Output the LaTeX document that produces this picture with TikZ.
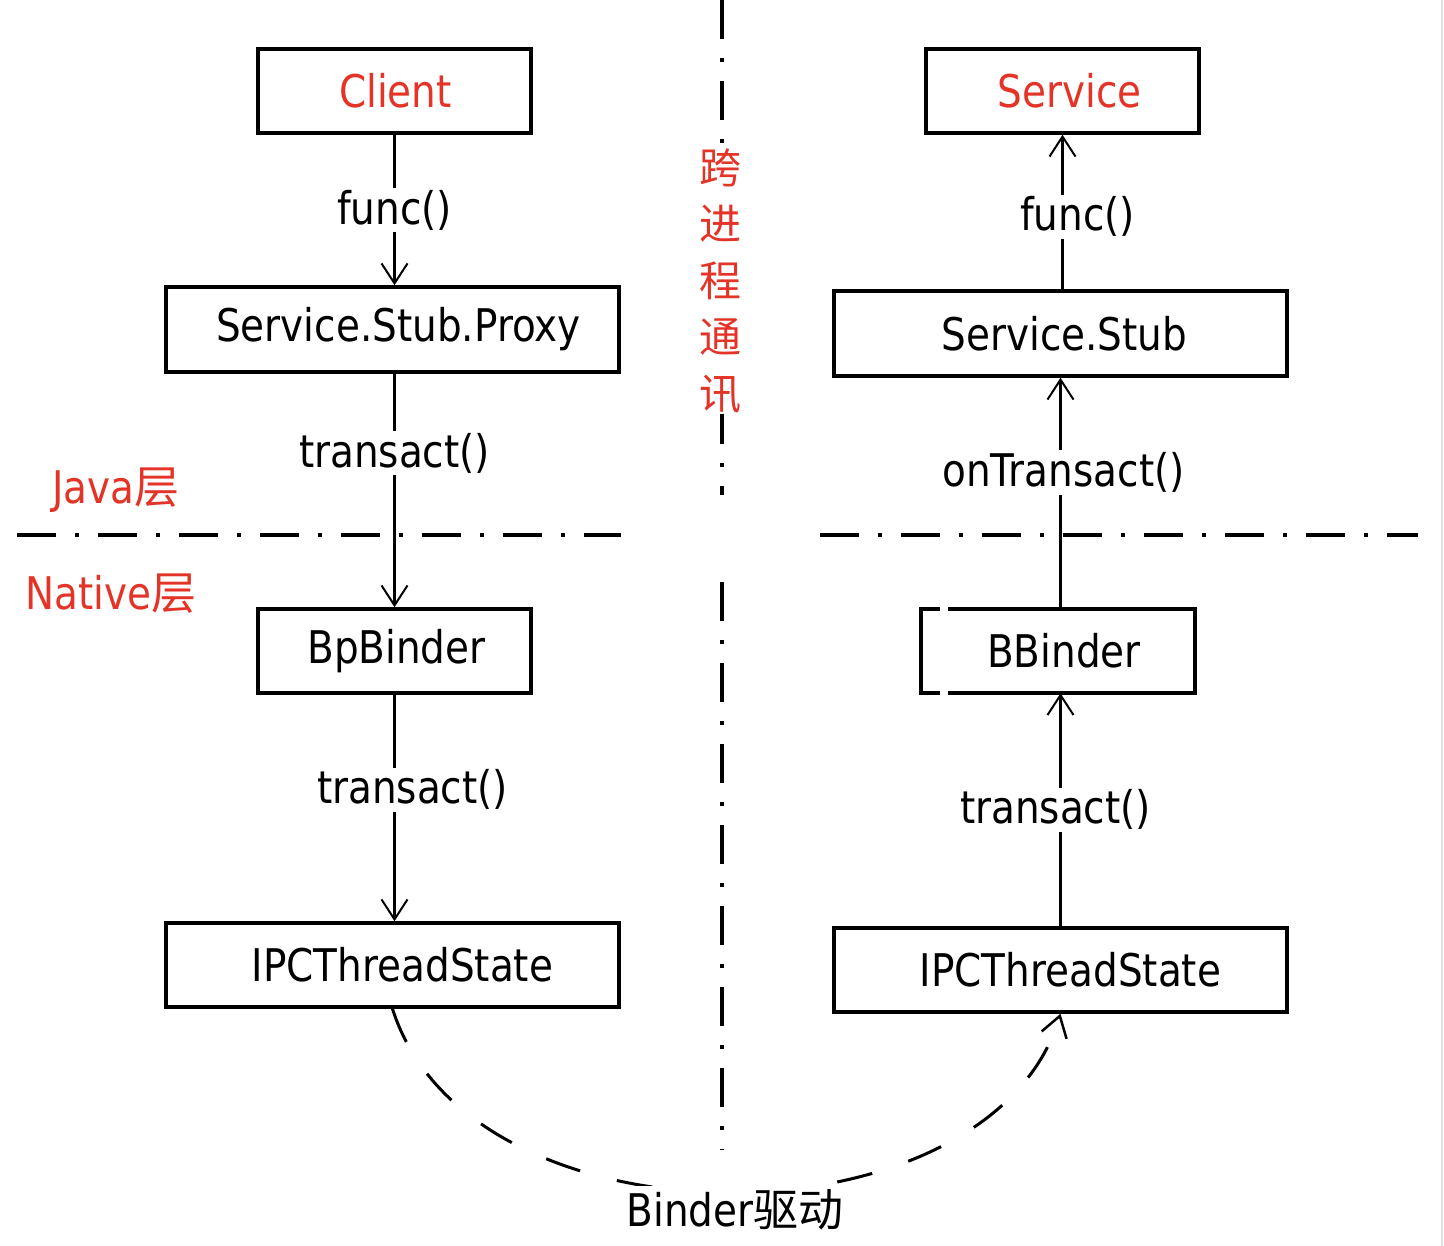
\documentclass[tikz,border=0pt]{standalone}
\usepackage{fontspec}
\setmainfont{DejaVu Sans}[FakeStretch=0.865]
\newfontfamily\cjk{Noto Sans CJK SC}
\usetikzlibrary{arrows.meta}
\definecolor{cred}{RGB}{228,52,40}
\begin{document}
\begin{tikzpicture}[x=1pt,y=-1pt,
  bigfont/.style={font=\fontsize{45}{54}\selectfont},
  box/.style={draw, line width=3.5pt, inner sep=0pt, bigfont},
  bt/.style={bigfont, inner sep=0pt},
  lbl/.style={fill=white, inner sep=2pt, bigfont},
  arr/.style={line width=3pt, -{Straight Barb[length=20pt,width=26pt,line width=2pt]}},
  dashdot/.style={line width=4pt, dash pattern=on 39pt off 19pt on 4pt off 19pt},
  redlbl/.style={bigfont, text=cred, inner sep=1pt}
]
\useasboundingbox (0,0) rectangle (1444,1246);
\fill[white] (0,0) rectangle (1444,1246);
\draw[black!12, line width=2pt] (1442,0) -- (1442,1246);

% separators
\draw[dashdot] (17,535) -- (621,535);
\draw[dashdot] (820,535) -- (1418,535);
\draw[dashdot] (722,0) -- (722,495);
\draw[dashdot] (722,582) -- (722,1150);
\node[font=\cjk\fontsize{42}{56.5}\selectfont, text=cred, align=center, fill=white, inner sep=1pt] (ipctext) at (720,281) {跨\\进\\程\\通\\讯};

\node[redlbl] (java) at (116,490) {Java{\cjk 层}};
\node[redlbl] (native) at (111,594) {Native{\cjk 层}};

% boxes
\node[box, minimum width=273pt, minimum height=84pt, label={[bt,text=cred,xshift=1pt]center:Client}] (client) at (394.5,91) {};
\node[box, minimum width=273pt, minimum height=84pt, label={[bt,text=cred,xshift=7pt]center:Service}] (service) at (1062.5,91) {};
\node[box, minimum width=453pt, minimum height=85pt, label={[bt,xshift=6pt]center:Service.Stub.Proxy}] (proxy) at (392.5,329.5) {};
\node[box, minimum width=453pt, minimum height=85pt, label={[bt,xshift=4pt]center:Service.Stub}] (stub) at (1060.5,333.5) {};
\node[box, minimum width=273pt, minimum height=84pt, label={[bt,xshift=2pt]center:BpBinder}] (bpb) at (394.5,651) {};
\node[minimum width=274pt, minimum height=84pt, inner sep=0pt, label={[bt,xshift=6pt]center:BBinder}] (bbinder) at (1058,651) {};
\draw[line width=3.5pt, line join=miter] ([xshift=19pt]bbinder.north west) -- (bbinder.north west) -- (bbinder.south west) -- ([xshift=19pt]bbinder.south west);
\draw[line width=3.5pt, line join=miter] ([xshift=27pt]bbinder.north west) -- (bbinder.north east) -- (bbinder.south east) -- ([xshift=27pt]bbinder.south west);
\node[box, minimum width=453pt, minimum height=84pt, label={[bt,xshift=10pt]center:IPCThreadState}] (ipcl) at (392.5,965) {};
\node[box, minimum width=453pt, minimum height=84pt, label={[bt,xshift=10pt]center:IPCThreadState}] (ipcr) at (1060.5,970) {};

% left connectors
\draw[arr] (client.south) -- node[lbl, pos=0.5]{func()} (proxy.north -| client.south);
\draw[arr] (proxy.south -| bpb.north) -- node[lbl, pos=0.34]{transact()} (bpb.north);
\draw[arr] (bpb.south) -- node[lbl, pos=0.42, xshift=18pt]{transact()} (bpb.south |- ipcl.north);

% right connectors
\draw[arr] (stub.north -| service.south) -- node[lbl, pos=0.47, xshift=15pt]{func()} (service.south);
\draw[arr] (bbinder.north -| stub.south) -- node[lbl, pos=0.59, xshift=3pt]{onTransact()} (stub.south);
\draw[arr] (ipcr.north) -- node[lbl, pos=0.5, xshift=-5pt]{transact()} (ipcr.north |- bbinder.south);

% binder driver arc
\draw[line width=3pt, dash pattern=on 36pt off 38pt, -{Straight Barb[length=20pt,width=26pt,line width=2.5pt]}] (ipcl.south) .. controls (470,1255) and (990,1250) .. (ipcr.south);
\node[lbl, inner sep=4pt] (drv) at (735,1210) {Binder{\cjk 驱动}};
\end{tikzpicture}
\end{document}
